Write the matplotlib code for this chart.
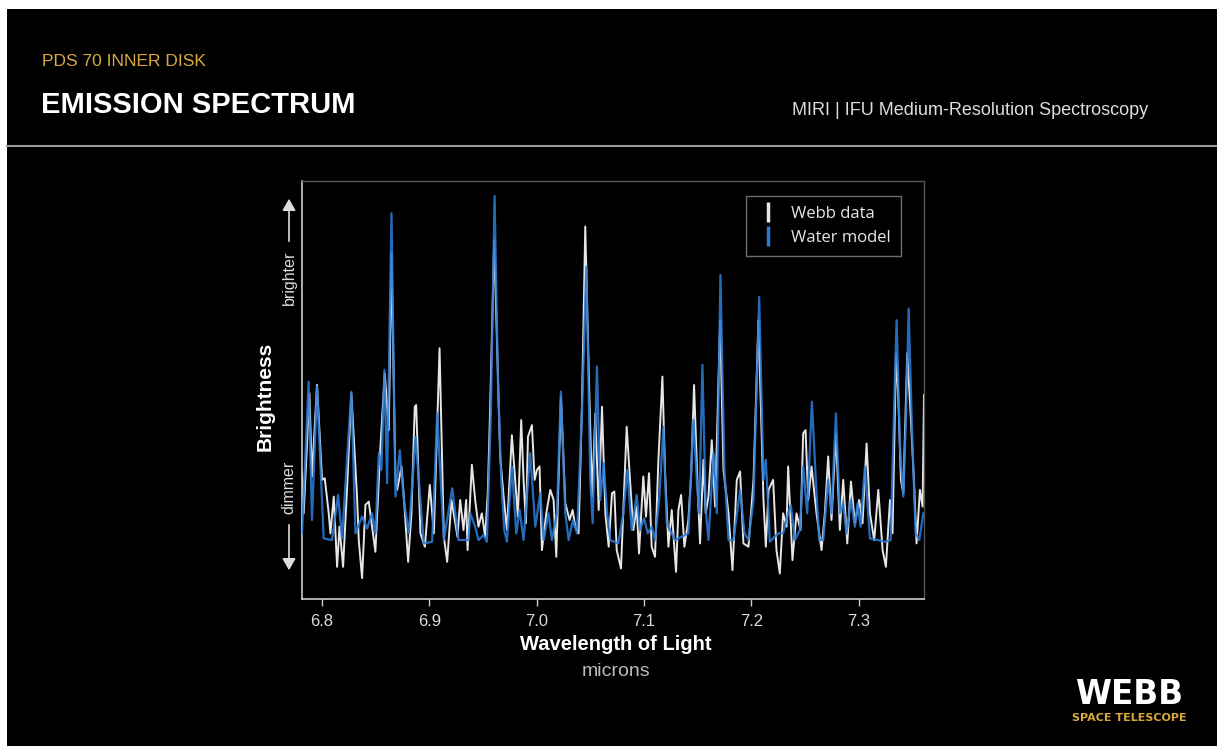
import matplotlib
matplotlib.use("Agg")
import matplotlib.pyplot as plt
from matplotlib import font_manager
from matplotlib.lines import Line2D
from matplotlib.patches import Rectangle, FancyArrowPatch

W, H = 1217, 746

names = {f.name for f in font_manager.fontManager.ttflist}
SANS = "Liberation Sans" if "Liberation Sans" in names else "DejaVu Sans"
LEG = "Open Sans" if "Open Sans" in names else SANS

GOLD = "#d9a93f"
BLUE = "#2b7bd6"
WHITE = "#e6e6e6"

# Webb data (wavelength in microns, brightness in arbitrary units)
webb_wl = [
    6.7813, 6.7829, 6.7882, 6.7906, 6.7953, 6.8000, 6.8025, 6.8062, 6.8078, 6.8109,
    6.8140, 6.8162, 6.8196, 6.8233, 6.8273, 6.8326, 6.8342, 6.8373, 6.8404, 6.8435,
    6.8497, 6.8544, 6.8584, 6.8622, 6.8647, 6.8684, 6.8700, 6.8740, 6.8762, 6.8802,
    6.8833, 6.8864, 6.8877, 6.8917, 6.8958, 6.9004, 6.9042, 6.9095, 6.9135, 6.9166,
    6.9206, 6.9262, 6.9287, 6.9318, 6.9343, 6.9356, 6.9396, 6.9427, 6.9458, 6.9489,
    6.9520, 6.9545, 6.9567, 6.9604, 6.9660, 6.9692, 6.9723, 6.9769, 6.9800, 6.9825,
    6.9856, 6.9878, 6.9900, 6.9919, 6.9956, 6.9981, 7.0003, 7.0027, 7.0049, 7.0090,
    7.0127, 7.0158, 7.0183, 7.0226, 7.0267, 7.0307, 7.0335, 7.0360, 7.0391, 7.0422,
    7.0453, 7.0485, 7.0516, 7.0547, 7.0578, 7.0609, 7.0640, 7.0671, 7.0702, 7.0724,
    7.0746, 7.0786, 7.0839, 7.0870, 7.0901, 7.0932, 7.0954, 7.0994, 7.1019, 7.1047,
    7.1072, 7.1103, 7.1134, 7.1172, 7.1197, 7.1228, 7.1259, 7.1299, 7.1321, 7.1346,
    7.1377, 7.1414, 7.1439, 7.1467, 7.1501, 7.1523, 7.1554, 7.1576, 7.1601, 7.1632,
    7.1663, 7.1710, 7.1741, 7.1788, 7.1825, 7.1865, 7.1896, 7.1927, 7.1974, 7.2021,
    7.2067, 7.2114, 7.2136, 7.2161, 7.2204, 7.2235, 7.2266, 7.2297, 7.2329, 7.2344,
    7.2384, 7.2422, 7.2459, 7.2484, 7.2506, 7.2531, 7.2562, 7.2608, 7.2655, 7.2686,
    7.2717, 7.2748, 7.2789, 7.2826, 7.2857, 7.2895, 7.2929, 7.2966, 7.3006, 7.3037,
    7.3075, 7.3106, 7.3146, 7.3184, 7.3224, 7.3255, 7.3293, 7.3317, 7.3349, 7.3370,
    7.3395, 7.3417, 7.3454, 7.3485, 7.3516, 7.3541, 7.3572, 7.3597, 7.3610,
]
webb_flux = [
    30.1, 20.5, 49.2, 29.3, 51.2, 28.5, 28.9, 20.5, 15.7, 24.5,
    7.7, 17.3, 7.7, 26.5, 49.2, 24.5, 14.1, 5.0, 22.5, 23.3,
    11.3, 36.5, 54.0, 40.4, 82.7, 28.5, 26.1, 31.7, 24.5, 8.9,
    20.5, 46.0, 46.4, 15.7, 12.5, 27.3, 15.7, 60.0, 14.9, 8.9,
    23.7, 14.9, 23.7, 16.5, 23.7, 11.7, 32.1, 23.7, 17.3, 20.5,
    14.9, 25.7, 46.0, 85.9, 34.1, 24.5, 16.5, 39.2, 28.5, 19.7,
    42.8, 28.5, 18.1, 38.8, 41.6, 28.5, 30.9, 31.7, 11.7, 20.5,
    26.1, 23.7, 10.1, 48.4, 22.9, 18.9, 21.3, 17.3, 15.7, 46.0,
    89.1, 54.8, 24.5, 44.4, 21.3, 46.0, 20.5, 12.5, 25.3, 25.7,
    11.7, 7.3, 41.2, 28.5, 16.5, 22.1, 10.9, 29.3, 19.7, 30.1,
    12.5, 10.1, 32.9, 53.2, 30.1, 12.5, 21.3, 6.5, 21.3, 24.9,
    12.5, 18.9, 29.3, 51.2, 26.1, 13.3, 33.3, 20.5, 24.5, 38.0,
    22.1, 66.7, 30.9, 20.5, 6.9, 28.5, 30.5, 13.3, 12.5, 28.5,
    66.7, 23.7, 12.5, 26.1, 28.5, 11.7, 6.1, 20.5, 17.3, 31.7,
    9.3, 20.5, 16.5, 39.6, 40.4, 23.7, 31.7, 20.5, 11.7, 20.5,
    34.1, 18.9, 39.6, 16.5, 28.5, 13.3, 28.1, 18.1, 23.7, 18.1,
    37.2, 20.5, 14.1, 26.1, 11.7, 7.7, 23.7, 15.7, 58.8, 48.4,
    28.5, 25.3, 58.8, 44.4, 28.5, 13.3, 26.1, 22.1, 48.8,
]

# Water model
model_wl = [
    6.7813, 6.7875, 6.7906, 6.7953, 6.8015, 6.8093, 6.8149, 6.8186, 6.8273, 6.8311,
    6.8373, 6.8420, 6.8466, 6.8497, 6.8529, 6.8553, 6.8581, 6.8606, 6.8647, 6.8684,
    6.8724, 6.8762, 6.8808, 6.8871, 6.8948, 6.9026, 6.9073, 6.9135, 6.9213, 6.9272,
    6.9365, 6.9381, 6.9427, 6.9458, 6.9505, 6.9536, 6.9573, 6.9608, 6.9639, 6.9670,
    6.9698, 6.9723, 6.9769, 6.9810, 6.9841, 6.9878, 6.9940, 6.9987, 7.0034, 7.0065,
    7.0111, 7.0142, 7.0189, 7.0226, 7.0267, 7.0298, 7.0338, 7.0376, 7.0422, 7.0463,
    7.0500, 7.0522, 7.0562, 7.0593, 7.0625, 7.0656, 7.0687, 7.0761, 7.0808, 7.0845,
    7.0886, 7.0932, 7.0963, 7.1001, 7.1035, 7.1072, 7.1103, 7.1144, 7.1181, 7.1212,
    7.1243, 7.1290, 7.1352, 7.1414, 7.1461, 7.1492, 7.1514, 7.1545, 7.1576, 7.1601,
    7.1648, 7.1679, 7.1713, 7.1750, 7.1788, 7.1834, 7.1896, 7.1937, 7.1974, 7.2021,
    7.2074, 7.2114, 7.2136, 7.2161, 7.2173, 7.2251, 7.2297, 7.2344, 7.2369, 7.2406,
    7.2453, 7.2484, 7.2521, 7.2565, 7.2602, 7.2633, 7.2671, 7.2717, 7.2748, 7.2789,
    7.2826, 7.2857, 7.2888, 7.2929, 7.2966, 7.2991, 7.3019, 7.3059, 7.3106, 7.3246,
    7.3299, 7.3330, 7.3355, 7.3386, 7.3417, 7.3442, 7.3467, 7.3498, 7.3532, 7.3566,
    7.3604,
]
model_flux = [
    15.7, 52.0, 18.9, 50.8, 14.5, 14.1, 24.9, 14.5, 49.6, 15.7,
    19.7, 16.9, 20.5, 15.7, 34.9, 30.9, 54.8, 27.7, 92.3, 24.5,
    35.6, 23.7, 15.7, 38.8, 13.3, 13.7, 44.4, 14.1, 26.5, 14.1,
    14.1, 20.5, 17.3, 14.1, 15.3, 13.7, 44.4, 96.4, 52.4, 28.5,
    16.5, 13.7, 31.7, 15.7, 21.3, 14.1, 34.9, 17.3, 25.3, 14.1,
    20.5, 14.1, 20.5, 49.6, 20.5, 14.1, 18.9, 15.7, 44.4, 79.5,
    28.5, 18.1, 55.6, 23.7, 32.5, 20.5, 14.1, 13.3, 20.5, 30.9,
    16.5, 24.9, 16.5, 19.3, 15.7, 17.3, 14.1, 24.5, 41.2, 18.1,
    16.5, 14.1, 14.9, 15.7, 42.8, 28.5, 20.5, 56.0, 21.3, 14.1,
    34.9, 20.5, 77.5, 30.9, 14.1, 14.1, 26.1, 15.7, 14.1, 23.7,
    72.3, 28.5, 33.3, 20.5, 13.7, 15.7, 15.7, 20.5, 22.5, 14.1,
    16.5, 31.7, 20.5, 47.2, 28.5, 14.1, 14.1, 28.5, 20.5, 44.4,
    20.5, 22.9, 15.7, 23.7, 17.3, 22.9, 17.3, 31.7, 14.5, 13.7,
    14.1, 44.4, 66.7, 36.5, 24.5, 42.8, 69.5, 40.4, 15.7, 14.1,
    20.5,
]

xticks = [6.8, 6.9, 7.0, 7.1, 7.2, 7.3]


def fx(x):
    return x / W


def fy(y):
    return 1 - y / H


fig = plt.figure(figsize=(W / 100, H / 100), dpi=100, facecolor="white")
fig.patches.append(Rectangle((fx(7), 0), 1 - fx(7), fy(9), transform=fig.transFigure,
                             facecolor="black", edgecolor="none", zorder=-10))
fig.add_artist(Line2D([fx(7), 1], [fy(145.5), fy(145.5)], transform=fig.transFigure,
                      color="#9a9a9a", lw=1.5))

# header
fig.text(fx(42), fy(66), "PDS 70 INNER DISK", color=GOLD, fontsize=12.5,
         family=SANS, va="baseline", ha="left")
fig.text(fx(41), fy(113), "EMISSION SPECTRUM", color="white", fontsize=21,
         family=SANS, fontweight="bold", va="baseline", ha="left")
fig.text(fx(792), fy(115), "MIRI | IFU Medium-Resolution Spectroscopy", color="#dddddd",
         fontsize=13, family=SANS, va="baseline", ha="left")

# axes
ax = fig.add_axes([fx(302), fy(599), fx(924) - fx(302), fy(181) - fy(599)])
ax.set_facecolor("black")
ax.plot(webb_wl, webb_flux, color=WHITE, lw=1.4, zorder=2)
ax.plot(model_wl, model_flux, color=BLUE, lw=1.6, alpha=0.88, zorder=3)
ax.set_xlim(6.7813, 7.361)
ax.set_ylim(0, 100)
ax.set_yticks([])
ax.set_xticks(xticks)
ax.set_xticklabels([f"{t:.1f}" for t in xticks], family=SANS, fontsize=12, color="#dddddd")
ax.tick_params(axis="x", direction="out", length=5, width=1, color="#cccccc", pad=6)
for s in ["left", "bottom"]:
    ax.spines[s].set_color("#cccccc")
    ax.spines[s].set_linewidth(1.2)
for s in ["top", "right"]:
    ax.spines[s].set_color("#555555")
    ax.spines[s].set_linewidth(1.0)

handles = [Line2D([], [], color=WHITE, marker="|", markersize=15, mew=2.5, ls="None"),
           Line2D([], [], color=BLUE, marker="|", markersize=15, mew=2.5, ls="None")]
leg = ax.legend(handles, ["Webb data", "Water model"], loc="upper right",
                bbox_to_anchor=(0.963, 0.964), borderaxespad=0, frameon=True,
                fancybox=False, facecolor="black", edgecolor="#888888",
                prop={"family": LEG, "size": 12}, labelcolor="#e6e6e6",
                handlelength=1.4, handletextpad=0.7, labelspacing=0.45, borderpad=0.6)
leg.get_frame().set_linewidth(1.0)

# axis labels
fig.text(fx(616), fy(645), "Wavelength of Light", color="white", fontsize=14.5,
         family=SANS, fontweight="bold", ha="center", va="center")
fig.text(fx(616), fy(672), "microns", color="#bbbbbb", fontsize=14,
         family=SANS, ha="center", va="center")
fig.text(fx(265), fy(396), "Brightness", color="white", fontsize=15, family=SANS,
         fontweight="bold", rotation=90, ha="center", va="center")
fig.text(fx(289), fy(278), "brighter", color="#dddddd", fontsize=11.5, family=SANS,
         rotation=90, ha="center", va="center")
fig.text(fx(289), fy(487), "dimmer", color="#dddddd", fontsize=11.5, family=SANS,
         rotation=90, ha="center", va="center")
for y0, y1 in [(244, 196), (522, 573)]:
    fig.add_artist(FancyArrowPatch((fx(289), fy(y0)), (fx(289), fy(y1)),
                                   transform=fig.transFigure, arrowstyle="-|>,head_length=3.5,head_width=2",
                                   color="#dddddd", lw=1.2, mutation_scale=2))

# logo
fig.text(fx(1129), fy(704), "WEBB", color="white", fontsize=23.5, family="DejaVu Sans",
         fontweight="bold", ha="center", va="baseline")
fig.text(fx(1129), fy(721), "SPACE TELESCOPE", color=GOLD, fontsize=8, family="DejaVu Sans",
         fontweight="bold", ha="center", va="baseline")

fig.savefig("out.png", dpi=100, facecolor="white")
